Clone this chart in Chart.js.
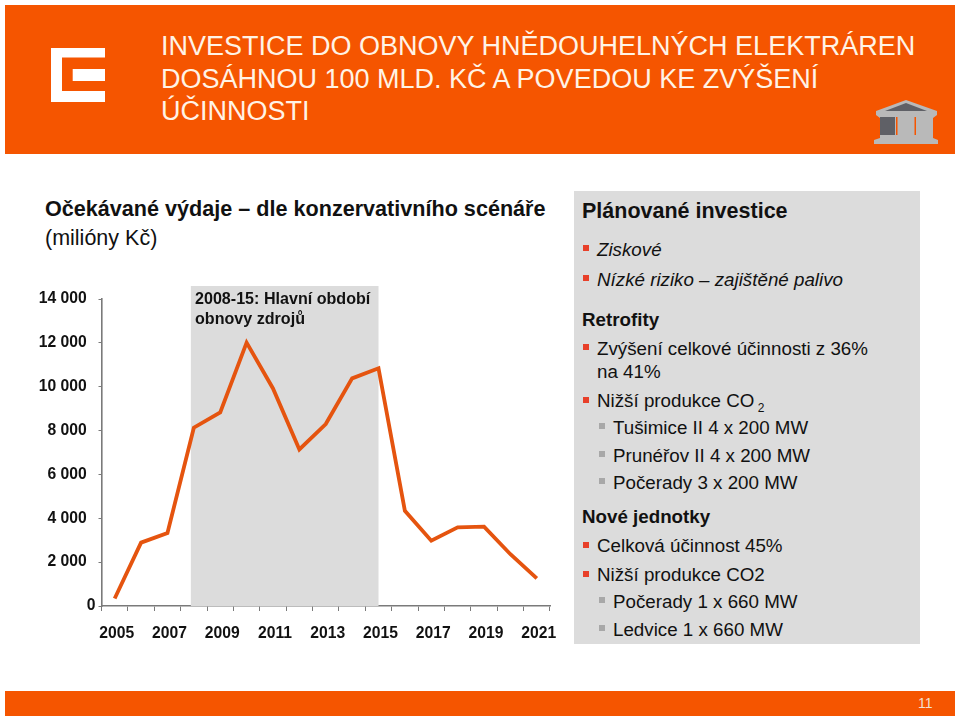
<!DOCTYPE html>
<html lang="cs">
<head>
<meta charset="utf-8">
<title>Investice do obnovy</title>
<script src="https://cdn.jsdelivr.net/npm/chart.js@4"></script>
<style>
  html, body { margin: 0; padding: 0; background: #fff; }
  body { width: 959px; height: 721px; position: relative; overflow: hidden; font-family: "Liberation Sans", Arial, sans-serif; color: #111; }
  .abs { position: absolute; }
  .header { left: 5px; top: 5px; width: 950px; height: 149px; background: #f55500; }
  .footer { left: 5px; top: 691px; width: 950px; height: 25px; background: #f55500; }
  .page-no { left: 918px; top: 695px; font-size: 14px; line-height: 16px; color: #f2e0d0; }
  .title { left: 161px; font-size: 27px; line-height: 32px; color: #fff3e6; white-space: nowrap; }
  .line { position: absolute; white-space: nowrap; font-size: 18.75px; line-height: 22px; }
  .b { font-weight: bold; }
  .i { font-style: italic; }
  .panel { left: 573.5px; top: 191px; width: 346px; height: 453px; background: #dcdcdc; }
  .bul { position: absolute; width: 6px; height: 6px; background: #e8402a; }
  .bul.sub { background: #a8a8a8; }
  sub { font-size: 12px; line-height: 0; }
  canvas { position: absolute; left: 0; top: 280px; }
</style>
</head>
<body>
  <div class="abs header"></div>
  <div class="abs footer"></div>
  <div class="abs page-no">11</div>

  <svg class="abs" style="left:0;top:0" width="959" height="160">
    <path fill="#fff" d="M51 48H105V57.5H62V91H105V102H51Z M72.7 69H105V81H72.7Z"/>
    <path fill="#b9b9b9" d="M906 100L937 111V115L933 118V138L938 140V144H874V140L880 138V118L876 115V111Z"/>
    <path fill="#5f6066" d="M906 103L885 111H927Z"/>
    <rect fill="#5f6066" x="880" y="117" width="15" height="18"/>
    <rect fill="#f55500" x="896" y="117" width="1.5" height="18"/>
    <rect fill="#f55500" x="914.5" y="117" width="1.5" height="18"/>
  </svg>

  <div class="abs title" style="top:30px">INVESTICE DO OBNOVY HNĚDOUHELNÝCH ELEKTRÁREN</div>
  <div class="abs title" style="top:63px">DOSÁHNOU 100 MLD. KČ A POVEDOU KE ZVÝŠENÍ</div>
  <div class="abs title" style="top:95px">ÚČINNOSTI</div>

  <div class="line b" style="left:45px;top:198px;font-size:21.6px">Očekávané výdaje – dle konzervativního scénáře</div>
  <div class="line" style="left:45px;top:227px;font-size:21.5px">(milióny Kč)</div>

  <canvas id="chart" width="570" height="370"></canvas>

  <div class="line b" style="left:195px;top:288px;font-size:16.1px;line-height:20px">2008-15: Hlavní období</div>
  <div class="line b" style="left:195px;top:308px;font-size:16.1px;line-height:20px">obnovy zdrojů</div>

  <div class="abs panel"></div>
  <div class="line b" style="left:582px;top:200px;font-size:21.5px">Plánované investice</div>
  <i class="bul" style="left:583px;top:245px"></i>
  <div class="line i" style="left:597px;top:239px">Ziskové</div>
  <i class="bul" style="left:583px;top:275px"></i>
  <div class="line i" style="left:597px;top:269px">Nízké riziko – zajištěné palivo</div>
  <div class="line b" style="left:582px;top:309px">Retrofity</div>
  <i class="bul" style="left:583px;top:344px"></i>
  <div class="line" style="left:597px;top:338px">Zvýšení celkové účinnosti z 36%</div>
  <div class="line" style="left:597px;top:361px">na 41%</div>
  <i class="bul" style="left:583px;top:397px"></i>
  <div class="line" style="left:597px;top:390px">Nižší produkce CO<sub> 2</sub></div>
  <i class="bul sub" style="left:599px;top:423px"></i>
  <div class="line" style="left:613px;top:417px">Tušimice II 4 x 200 MW</div>
  <i class="bul sub" style="left:599px;top:451px"></i>
  <div class="line" style="left:613px;top:445px">Prunéřov II 4 x 200 MW</div>
  <i class="bul sub" style="left:599px;top:478px"></i>
  <div class="line" style="left:613px;top:472px">Počerady 3 x 200 MW</div>
  <div class="line b" style="left:582px;top:506px">Nové jednotky</div>
  <i class="bul" style="left:583px;top:542px"></i>
  <div class="line" style="left:597px;top:535px">Celková účinnost 45%</div>
  <i class="bul" style="left:583px;top:571px"></i>
  <div class="line" style="left:597px;top:564px">Nižší produkce CO2</div>
  <i class="bul sub" style="left:599px;top:597px"></i>
  <div class="line" style="left:613px;top:591px">Počerady 1 x 660 MW</div>
  <i class="bul sub" style="left:599px;top:625px"></i>
  <div class="line" style="left:613px;top:619px">Ledvice 1 x 660 MW</div>

<script>
const years = ["2005", "2006", "2007", "2008", "2009", "2010", "2011", "2012", "2013", "2014", "2015", "2016", "2017", "2018", "2019", "2020", "2021"];
const spending = [340, 2890, 3330, 8130, 8830, 12010, 9920, 7140, 8300, 10380, 10840, 4340, 2980, 3590, 3620, 2360, 1260];
const yTickLabels = ["0", "2 000  ", "4 000  ", "6 000  ", "8 000  ", "10 000  ", "12 000  ", "14 000  "];
const bandFrom = "2008";
const bandTo = "2015";

const axisColor = "#7a7a7a";

// grey "2008-15" rectangle, it sticks out a bit above the y axis
const bandPlugin = {
  id: "band",
  beforeDatasetsDraw(chart) {
    const { ctx, scales } = chart;
    const left = scales.x.getPixelForValue(years.indexOf(bandFrom)) - 3;
    const right = scales.x.getPixelForValue(years.indexOf(bandTo));
    const top = scales.y.getPixelForValue(14000) - 13;
    const bottom = scales.y.getPixelForValue(0);
    ctx.save();
    ctx.fillStyle = "#dcdcdc";
    ctx.fillRect(left, top, right - left, bottom - top);
    ctx.restore();
  },
};

new Chart(document.getElementById("chart"), {
  type: "line",
  data: {
    labels: years,
    datasets: [
      {
        data: spending,
        borderColor: "#e5540f",
        borderWidth: 3.8,
        pointRadius: 0,
        tension: 0,
        clip: false,
      },
    ],
  },
  options: {
    responsive: false,
    animation: false,
    layout: { padding: { top: 19, right: 20, left: 0, bottom: 0 } },
    plugins: { legend: { display: false }, tooltip: { enabled: false } },
    scales: {
      x: {
        offset: true,
        grid: { offset: true, drawOnChartArea: false, color: axisColor, tickLength: 5, lineWidth: 1 },
        border: { color: axisColor, width: 1.6 },
        ticks: {
          autoSkip: false,
          maxRotation: 0,
          minRotation: 0,
          padding: 13,
          labelOffset: 2,
          color: "#111",
          font: { family: "Liberation Sans", size: 15.7, weight: "bold" },
          callback: (value, index) => (index % 2 === 0 ? years[index] : ""),
        },
        afterFit: (scale) => {
          scale.height = 44;
        },
      },
      y: {
        min: 0,
        max: 14000,
        grid: { drawOnChartArea: false, color: axisColor, tickLength: 3, lineWidth: 1 },
        border: { color: axisColor, width: 1.6 },
        ticks: {
          stepSize: 2000,
          padding: 3,
          color: "#111",
          font: { family: "Liberation Sans", size: 15.7, weight: "bold" },
          callback: (value, index) => yTickLabels[index],
        },
        afterFit: (scale) => {
          scale.width = 101.5;
        },
      },
    },
  },
  plugins: [bandPlugin],
});
</script>
</body>
</html>
